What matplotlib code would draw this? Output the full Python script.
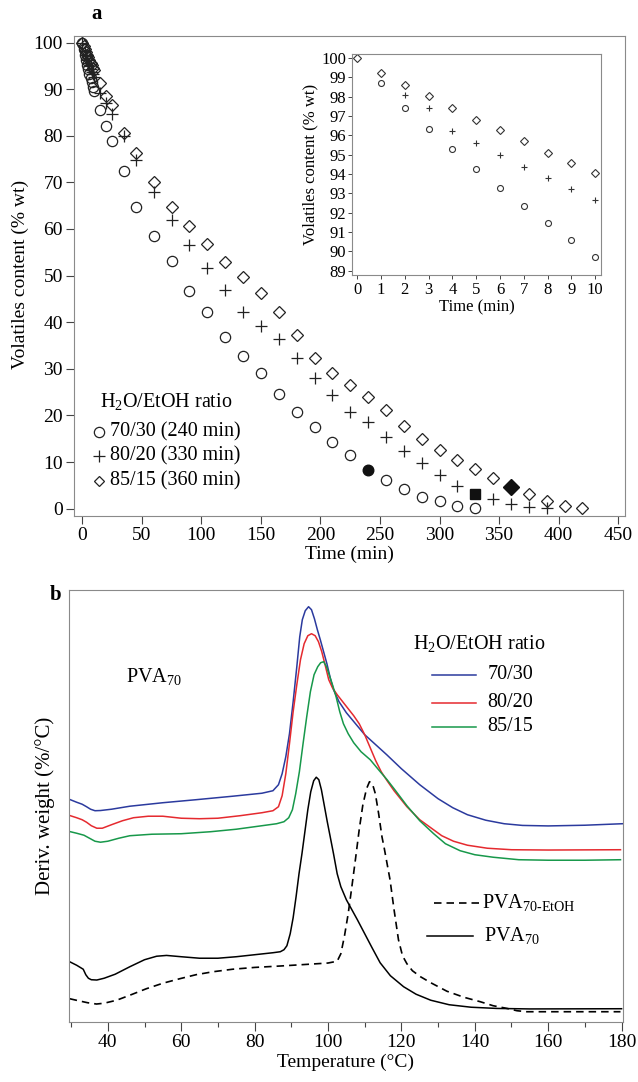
import numpy as np
import matplotlib.pyplot as plt
from matplotlib.ticker import MultipleLocator

plt.rcParams['font.family'] = ['Liberation Serif', 'DejaVu Serif']
plt.rcParams['mathtext.fontset'] = 'custom'
plt.rcParams['mathtext.rm'] = 'Liberation Serif'
plt.rcParams['mathtext.it'] = 'Liberation Serif:italic'

# ---- panel a data: volatiles content (% wt) vs time (min)
t_7030 = [0, 1, 2, 3, 4, 5, 6, 7, 8, 9, 10, 15, 20, 25, 35, 45,
          60, 75, 90, 105, 120, 135, 150, 165, 180, 195, 210, 225,
          255, 270, 285, 300, 315, 330]
v_7030 = [100, 98.72, 97.4, 96.31, 95.28, 94.28, 93.28, 92.34, 91.45, 90.57, 89.71,
          85.5, 82.0, 78.9, 72.5, 64.8,
          58.5, 53.2, 46.6, 42.1, 36.9, 32.7, 29.0, 24.5, 20.8, 17.6, 14.2, 11.5,
          6.2, 4.3, 2.6, 1.65, 0.65, 0.1]

t_8020 = [0, 2, 3, 4, 5, 6, 7, 8, 9, 10, 15, 20, 25, 35, 45,
          60, 75, 90, 105, 120, 135, 150, 165, 180, 195, 210, 225, 240,
          255, 270, 285, 300, 315, 345, 360, 375, 390]
v_8020 = [100, 98.1, 97.4, 96.2, 95.59, 94.97, 94.38, 93.79, 93.22, 92.66,
          89.2, 87.0, 84.6, 80.0, 74.8,
          68.0, 62.0, 56.6, 51.7, 46.9, 42.2, 39.2, 36.3, 32.3, 28.1, 24.3, 20.8, 18.5,
          15.3, 12.4, 9.9, 7.2, 4.9, 2.0, 0.95, 0.4, 0.1]

t_8515 = [0, 1, 2, 3, 4, 5, 6, 7, 8, 9, 10, 15, 20, 25, 35, 45,
          60, 75, 90, 105, 120, 135, 150, 165, 180, 195, 210, 225, 240,
          255, 270, 285, 300, 315, 330, 345, 375, 390, 405, 420]
v_8515 = [100, 99.24, 98.62, 98.03, 97.4, 96.81, 96.26, 95.71, 95.1, 94.57, 94.05,
          91.3, 88.6, 86.6, 80.6, 76.2,
          70.0, 64.8, 60.6, 56.8, 53.0, 49.8, 46.2, 42.2, 37.3, 32.3, 29.2, 26.5, 23.9,
          21.2, 17.7, 15.0, 12.6, 10.5, 8.6, 6.5, 3.1, 1.7, 0.65, 0.1]

# end of process points (filled markers)
end_t = [240, 330, 360]
end_v = [8.2, 3.15, 4.6]

legend_a = ['70/30 (240 min)', '80/20 (330 min)', '85/15 (360 min)']

# ---- panel b data: derivative weight curves (arbitrary offset units)
T_7030 = [29.8, 31.5, 33.0, 34.2, 35.3, 36.5, 38, 41, 46, 55, 64, 74, 82, 85, 86.5,
          87.5, 88.5, 89.5, 90.5, 91.5, 92.3, 93.0, 93.8, 94.7, 95.5, 96.3, 97.1,
          97.9, 98.8, 99.7, 100.6, 101.5, 103, 105, 107.5, 110, 113, 116, 120, 125,
          130, 134, 138, 143, 148, 153, 160, 170, 180.2]
D_7030 = [222, 219.5, 217.5, 215, 212.5, 211, 211.2, 212.5, 215.5, 219, 222, 225.5,
          228.5, 231, 237, 248, 265, 288, 320, 355, 385, 402, 411, 415, 412, 403,
          392, 382, 370, 358, 344, 332, 320, 309, 298, 287, 277, 267, 253, 237,
          223, 214, 207, 201.5, 198, 196.3, 195.8, 196.5, 198]

T_8020 = [29.8, 31.5, 33.0, 34.2, 35.5, 37, 38.5, 41, 44, 47, 51, 55, 60, 65, 70, 76,
          82, 85, 86.5, 87.5, 88.5, 89.5, 90.5, 91.5, 92.5, 93.5, 94.5, 95.5, 96.5,
          97.4, 98.3, 99.2, 100.2, 101.2, 102.5, 104, 105.5, 107, 108.5, 110, 111.5,
          113, 114.5, 116.1, 118, 121.5, 125, 128, 131, 134.2, 138, 143.4, 150, 160,
          179.7]
D_8020 = [206, 204, 202, 199.5, 196, 193.5, 193.5, 197, 201, 204, 205.5, 205.5,
          203.5, 203, 203.5, 206, 209, 211, 215, 226, 248, 278, 310, 337, 362, 378,
          386, 388, 386, 380, 370, 357, 342, 334, 327, 320, 313, 306, 298, 287, 274,
          261, 250, 241, 231, 215, 202, 194, 186, 180.5, 176.5, 173.5, 172, 171.7,
          172]

T_8515 = [29.8, 31.5, 33.5, 35, 36.5, 38, 40, 43, 46, 52, 60, 68, 75, 82, 86, 88,
          89.3, 90.3, 91.2, 92.2, 93.2, 94.2, 95.2, 96.2, 97.2, 98, 98.8, 99.6,
          100.4, 101.3, 102.2, 103.2, 104.2, 105.5, 107, 109, 111.5, 114, 116.1, 118,
          121.5, 125, 128.8, 132, 136, 140, 145, 152, 160, 170, 179.7]
D_8515 = [190, 188.5, 186.5, 183.5, 180.5, 179.5, 180.5, 183.5, 186, 187.5, 188,
          190, 192.5, 196, 198, 200, 204, 212, 228, 250, 278, 305, 330, 347, 355,
          359, 360, 355, 346, 336, 325, 310, 298, 288, 279, 270, 262, 251, 242, 233,
          216, 201, 188, 178, 171, 167, 164.5, 162, 161.5, 161.5, 162]

T_pva = [29.6, 31.5, 33.3, 34.0, 34.7, 35.5, 37, 39, 42, 46, 50, 53.3, 56, 60, 65,
         70, 75, 80, 85, 87, 88, 88.8, 89.7, 90.5, 91.3, 92.1, 92.9, 93.7, 94.5,
         95.3, 96.1, 96.8, 97.5, 98.2, 99, 99.8, 100.6, 101.5, 102.5, 103.5, 105,
         106.5, 108, 110, 112, 114.2, 117, 120.6, 124, 128, 133, 139, 146, 155, 180]
D_pva = [60, 56.5, 52.5, 47, 43.5, 42, 41.7, 43.5, 47.5, 55, 62, 65.5, 66.3, 65,
         63.5, 63.5, 65, 67, 69, 70, 72, 76, 88, 104, 125, 148, 168, 190, 212, 230,
         241, 244.5, 242, 232, 216, 200, 185, 168, 148, 135, 122, 112, 102, 88, 74,
         59, 46, 35, 27.5, 21.5, 17, 14.5, 13.3, 12.8, 13]

T_etoh = [29.6, 32, 34.5, 36.9, 39, 42.4, 46, 50.5, 55, 59.6, 64, 68.7, 74, 80,
          86.9, 94, 100, 102.5, 103.5, 104.5, 105.5, 106.5, 107.5, 108.5, 109.5,
          110.5, 111.3, 112.1, 112.9, 113.8, 114.7, 115.3, 116.1, 116.9, 118, 119.2,
          120.3, 121.5, 123, 125.2, 128, 132.4, 137, 141.5, 145, 148.8, 151.5, 154.2,
          165, 179.7]
D_etoh = [23, 21, 19, 17.7, 18.5, 21.5, 26.5, 33, 38.5, 43, 47, 50, 52.5, 54.3,
          55.7, 57.3, 58.7, 60.5, 68, 86, 108, 135, 163, 192, 217, 233, 240, 238,
          228, 208, 185, 174, 158, 142, 112, 82, 66, 58, 51, 45, 39, 30.5, 24.5, 20,
          16, 13.3, 11, 10, 10, 10]

blue = '#2b3a9e'
red = '#e52a2f'
green = '#17984a'
frame = '#8a8a8a'

fig = plt.figure(figsize=(6.38, 10.82), dpi=100)

# ================= panel a =================
ax = fig.add_axes([0.116, 0.523, 0.864, 0.4437])
ax.plot(t_7030, v_7030, 'o', ms=7.4, mfc='none', mec='#222', mew=0.9, ls='none')
ax.plot(t_8020, v_8020, '+', ms=8.5, mec='#222', mew=0.9, ls='none')
ax.plot(t_8515, v_8515, 'D', ms=6.0, mfc='none', mec='#222', mew=0.9, ls='none')
ax.plot(end_t[0], end_v[0], 'o', ms=7.6, color='#111')
ax.plot(end_t[1], end_v[1], 's', ms=7.8, color='#111')
ax.plot(end_t[2], end_v[2], 'D', ms=8.0, color='#111')

ax.set_xlim(-7, 456)
ax.set_ylim(-1.6, 101.4)
ax.set_xticks(np.arange(0, 451, 50))
ax.set_yticks(np.arange(0, 101, 10))
ax.tick_params(direction='out', length=6, width=0.8, color='#444', labelsize=14, pad=2)
for s in ax.spines.values():
    s.set_color(frame)
ax.set_xlabel('Time (min)', fontsize=14, labelpad=1)
fig.text(0.032, 0.746, 'Volatiles content (% wt)', rotation=90, fontsize=14,
         ha='center', va='center')
fig.text(0.152, 0.987, 'a', fontsize=15, fontweight='bold', ha='center', va='center')

# legend built by hand like in the reference
ax.text(0.047, 0.238, 'H$_2$O/EtOH ratio', transform=ax.transAxes, fontsize=14.5,
        ha='left', va='center')
leg_y = [0.1756, 0.125, 0.073]
leg_m = ['o', '+', 'D']
leg_ms = [7.4, 8.5, 5.4]
for yy, m, msz, lab in zip(leg_y, leg_m, leg_ms, legend_a):
    ax.plot([0.0454], [yy], m, ms=msz, mfc='none', mec='#222', mew=0.9,
            transform=ax.transAxes, clip_on=False)
    ax.text(0.066, yy, lab, transform=ax.transAxes, fontsize=14.5, ha='left', va='center')

# inset
ins = fig.add_axes([0.5522, 0.7456, 0.3893, 0.2044])
tc = np.array(t_7030); vc = np.array(v_7030)
tp = np.array(t_8020); vp = np.array(v_8020)
td = np.array(t_8515); vd = np.array(v_8515)
mc = (tc > 0) & (tc <= 10)
mp = (tp > 0) & (tp <= 10)
md = td <= 10
ins.plot(tc[mc], vc[mc], 'o', ms=4.3, mfc='none', mec='#333', mew=0.8, ls='none')
ins.plot(tp[mp], vp[mp], '+', ms=5, mec='#333', mew=0.8, ls='none')
ins.plot(td[md], vd[md], 'D', ms=3.6, mfc='none', mec='#333', mew=0.8, ls='none')
ins.set_xlim(-0.2, 10.23)
ins.set_ylim(88.76, 100.2)
ins.set_xticks(np.arange(0, 11, 1))
ins.set_yticks(np.arange(89, 101, 1))
ins.tick_params(direction='out', length=3, width=0.7, color='#444', labelsize=12, pad=1.5)
for s in ins.spines.values():
    s.set_color(frame)
ins.set_xlabel('Time (min)', fontsize=12, labelpad=1)
ins.set_ylabel('Volatiles content (% wt)', fontsize=12, labelpad=2)

# ================= panel b =================
bx = fig.add_axes([0.1086, 0.0557, 0.8674, 0.399])
bx.plot(T_7030, D_7030, color=blue, lw=1.1)
bx.plot(T_8020, D_8020, color=red, lw=1.1)
bx.plot(T_8515, D_8515, color=green, lw=1.1)
bx.plot(T_etoh, D_etoh, color='black', lw=1.2, ls=(0, (4.5, 3)))
bx.plot(T_pva, D_pva, color='black', lw=1.1)

bx.set_xlim(29.5, 180.3)
bx.set_ylim(0, 431.7)
bx.set_yticks([])
bx.set_xticks(np.arange(40, 181, 20))
bx.xaxis.set_minor_locator(MultipleLocator(10))
bx.tick_params(axis='x', which='major', direction='out', length=6.5, width=0.8,
               color='#444', labelsize=14, pad=2)
bx.tick_params(axis='x', which='minor', direction='out', length=3.5, width=0.8, color='#444')
for s in bx.spines.values():
    s.set_color(frame)
bx.set_xlabel('Temperature (°C)', fontsize=14, labelpad=2)
bx.set_ylabel('Deriv. weight (%/°C)', fontsize=15, labelpad=10)
fig.text(0.087, 0.45, 'b', fontsize=15, fontweight='bold', ha='center', va='center')

bx.text(45, 345, 'PVA$_{70}$', fontsize=14.5, ha='left', va='center')
bx.text(123.1, 378, 'H$_2$O/EtOH ratio', fontsize=14.5, ha='left', va='center')
for yy, c, lab in zip([347, 319, 295], [blue, red, green], ['70/30', '80/20', '85/15']):
    bx.plot([128.3, 140.4], [yy, yy], color=c, lw=1.1)
    bx.text(143.4, yy, lab, fontsize=14.5, ha='left', va='center')
bx.plot([128.8, 141.5], [119, 119], color='black', lw=1.2, ls=(0, (4.5, 3)))
bx.text(142, 119, 'PVA$_{70\\text{-EtOH}}$', fontsize=14.5, ha='left', va='center')
bx.plot([127.1, 139.5], [86, 86], color='black', lw=1.1)
bx.text(142.5, 86, 'PVA$_{70}$', fontsize=14.5, ha='left', va='center')

fig.savefig('out.png', dpi=100)
